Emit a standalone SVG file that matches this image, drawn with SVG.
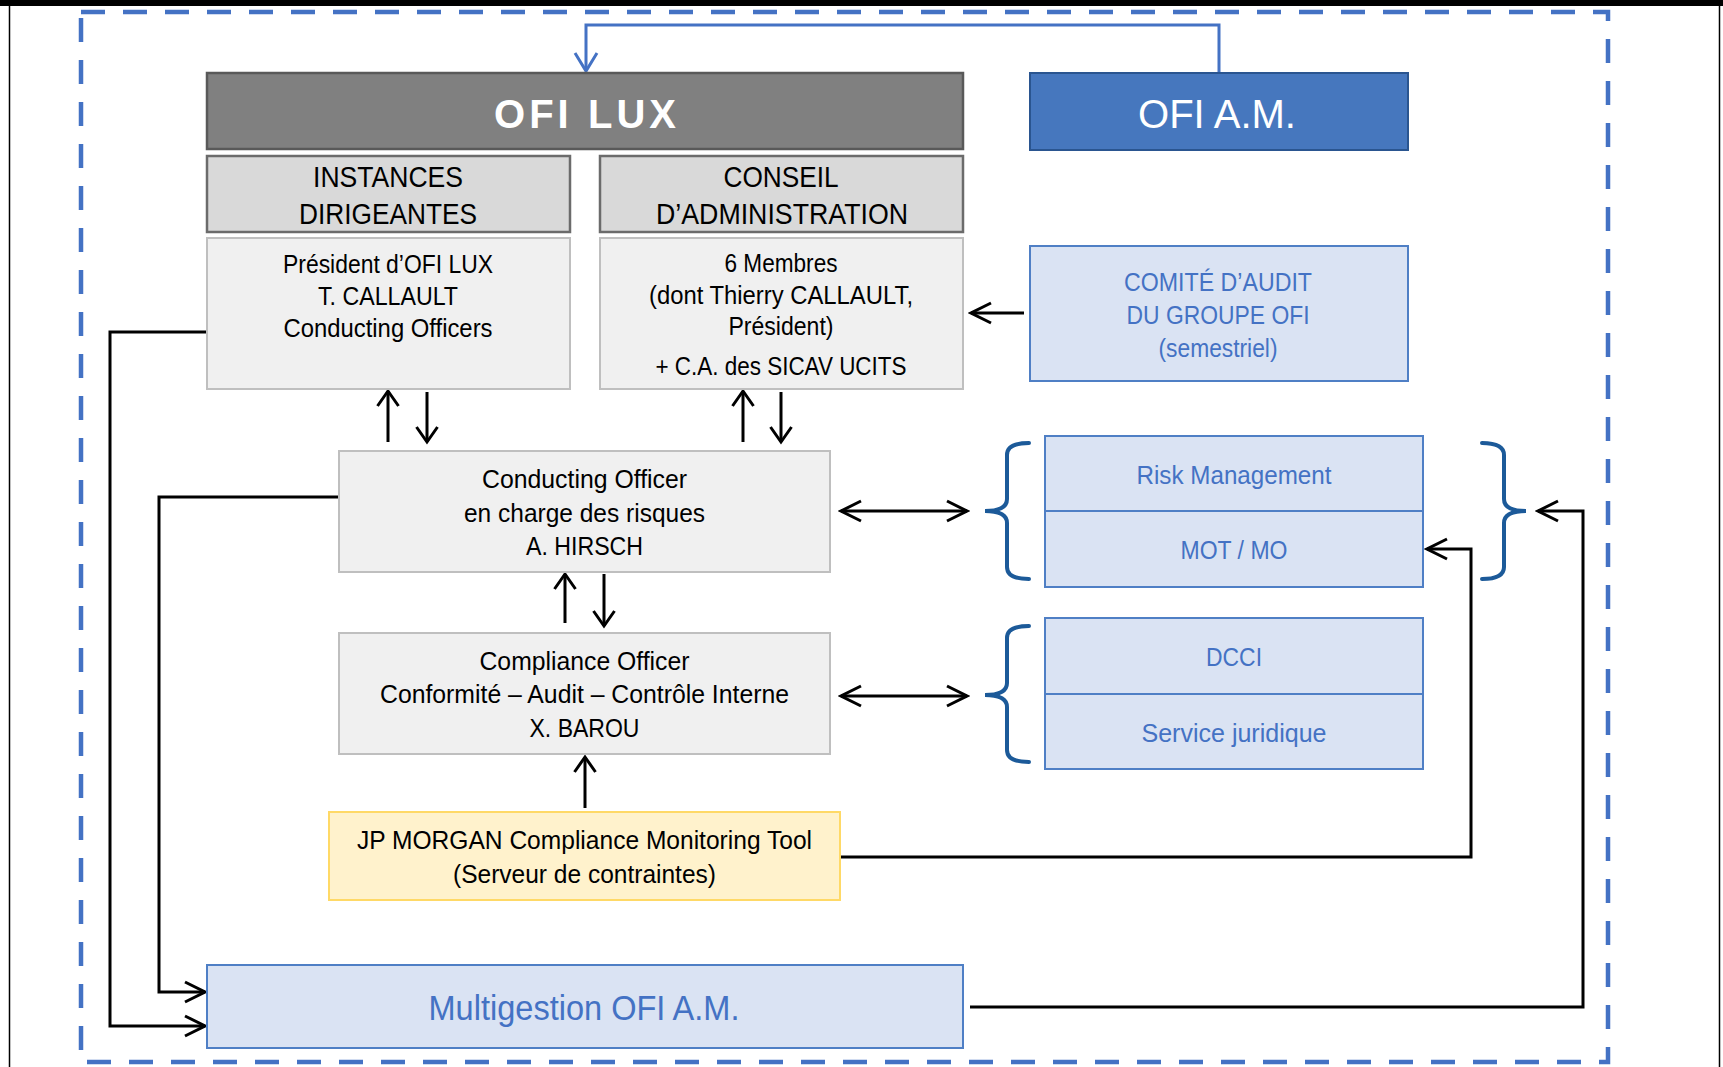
<svg xmlns="http://www.w3.org/2000/svg" width="1723" height="1067" viewBox="0 0 1723 1067">
<style>
text{font-family:"Liberation Sans",Arial,sans-serif;text-anchor:middle;}
.t{font-size:25px;fill:#000;}
.h{font-size:30px;fill:#000;}
.b{font-size:26px;fill:#4472c4;}
.dark{fill:#808080;stroke:#595959;stroke-width:2.5;}
.hdr{fill:#d9d9d9;stroke:#6b6b6b;stroke-width:2.5;}
.gray{fill:#f0f0f0;stroke:#bfbfbf;stroke-width:2;}
.lb{fill:#dae3f3;stroke:#4f7fc5;stroke-width:2;}
.con{fill:none;stroke:#000;stroke-width:3;}
.brace{fill:none;stroke:#1c5a99;stroke-width:4;stroke-linecap:round;}
</style>
<defs>
<marker id="aH" viewBox="-24 -13 27 26" refX="0" refY="0" markerWidth="27" markerHeight="26" markerUnits="userSpaceOnUse" orient="auto-start-reverse">
<path d="M-20,-10 L0,0 L-20,10" fill="none" stroke="#000" stroke-width="3"/>
</marker>
<marker id="aV" viewBox="-20 -14 23 28" refX="0" refY="0" markerWidth="23" markerHeight="28" markerUnits="userSpaceOnUse" orient="auto">
<path d="M-15,-10.5 L0,0 L-15,10.5" fill="none" stroke="#000" stroke-width="3"/>
</marker>
<marker id="aB" viewBox="-22 -14 25 28" refX="0" refY="0" markerWidth="25" markerHeight="28" markerUnits="userSpaceOnUse" orient="auto">
<path d="M-18,-11 L0,0 L-18,11" fill="none" stroke="#4472c4" stroke-width="3"/>
</marker>
</defs>
<rect x="0" y="0" width="1723" height="1067" fill="#fff"/>
<rect x="0" y="0" width="1723" height="6" fill="#000"/>
<line x1="9.5" y1="0" x2="9.5" y2="1067" stroke="#000" stroke-width="1.5"/>
<line x1="1719.5" y1="0" x2="1719.5" y2="1067" stroke="#000" stroke-width="1.5"/>
<rect id="frame" x="81" y="12" width="1527" height="1050" fill="none" stroke="#4472c4" stroke-width="4.5" stroke-dasharray="24 18"/>

<g id="connectors">
<path d="M1219,73 V25 H586 V71" fill="none" stroke="#4472c4" stroke-width="3" marker-end="url(#aB)"/>
<path class="con" d="M1024,313 H971" marker-end="url(#aH)"/>
<path class="con" d="M388,442 V391" marker-end="url(#aV)"/>
<path class="con" d="M427,392 V442" marker-end="url(#aV)"/>
<path class="con" d="M743,442 V391" marker-end="url(#aV)"/>
<path class="con" d="M781,392 V442" marker-end="url(#aV)"/>
<path class="con" d="M565,623 V574" marker-end="url(#aV)"/>
<path class="con" d="M604,574 V626" marker-end="url(#aV)"/>
<path class="con" d="M585,808 V757" marker-end="url(#aV)"/>
<path class="con" d="M841,511 H967" marker-start="url(#aH)" marker-end="url(#aH)"/>
<path class="con" d="M841,696 H967" marker-start="url(#aH)" marker-end="url(#aH)"/>
<path class="con" d="M207,332 H110 V1026 H205" marker-end="url(#aH)"/>
<path class="con" d="M339,497 H159 V992 H205" marker-end="url(#aH)"/>
<path class="con" d="M840,857 H1471 V549 H1427" marker-end="url(#aH)"/>
<path class="con" d="M970,1007 H1583 V511 H1538" marker-end="url(#aH)"/>
<path class="brace" d="M1029,443 Q1007,443 1007,455 V499 Q1007,511 985,511 Q1007,511 1007,523 V567 Q1007,579 1029,579"/>
<path class="brace" d="M1482,443 Q1504,443 1504,455 V499 Q1504,511 1526,511 Q1504,511 1504,523 V567 Q1504,579 1482,579"/>
<path class="brace" d="M1029,626 Q1007,626 1007,638 V683 Q1007,695 985,695 Q1007,695 1007,707 V750 Q1007,762 1029,762"/>
</g>

<g id="ofi-lux">
<rect class="dark" x="207" y="73" width="756" height="76"/>
<text x="585" y="128" style="font-size:40px;font-weight:bold;fill:#fff" textLength="182" lengthAdjust="spacing">OFI LUX</text>
</g>
<g id="ofi-am">
<rect x="1030" y="73" width="378" height="77" fill="#4677be" stroke="#2a5590" stroke-width="2"/>
<text x="1217" y="128" style="font-size:40px;fill:#fff" textLength="158" lengthAdjust="spacingAndGlyphs">OFI A.M.</text>
</g>
<g id="instances">
<rect class="hdr" x="207" y="156" width="363" height="76"/>
<text class="h" x="388" y="187" textLength="150" lengthAdjust="spacingAndGlyphs">INSTANCES</text>
<text class="h" x="388" y="224" textLength="178" lengthAdjust="spacingAndGlyphs">DIRIGEANTES</text>
</g>
<g id="conseil">
<rect class="hdr" x="600" y="156" width="363" height="76"/>
<text class="h" x="781" y="187" textLength="115" lengthAdjust="spacingAndGlyphs">CONSEIL</text>
<text class="h" x="782" y="224" textLength="252" lengthAdjust="spacingAndGlyphs">D’ADMINISTRATION</text>
</g>
<g id="president">
<rect class="gray" x="207" y="238" width="363" height="151"/>
<text class="t" x="388" y="273" textLength="210" lengthAdjust="spacingAndGlyphs">Président d’OFI LUX</text>
<text class="t" x="388" y="305" textLength="140" lengthAdjust="spacingAndGlyphs">T. CALLAULT</text>
<text class="t" x="388" y="337" textLength="209" lengthAdjust="spacingAndGlyphs">Conducting Officers</text>
</g>
<g id="membres">
<rect class="gray" x="600" y="238" width="363" height="151"/>
<text class="t" x="781" y="272" textLength="113" lengthAdjust="spacingAndGlyphs">6 Membres</text>
<text class="t" x="781" y="304" textLength="264" lengthAdjust="spacingAndGlyphs">(dont Thierry CALLAULT,</text>
<text class="t" x="781" y="335" textLength="105" lengthAdjust="spacingAndGlyphs">Président)</text>
<text class="t" x="781" y="375" textLength="251" lengthAdjust="spacingAndGlyphs">+ C.A. des SICAV UCITS</text>
</g>
<g id="comite">
<rect class="lb" x="1030" y="246" width="378" height="135"/>
<text class="b" x="1218" y="291" textLength="188" lengthAdjust="spacingAndGlyphs">COMITÉ D’AUDIT</text>
<text class="b" x="1218" y="324" textLength="183" lengthAdjust="spacingAndGlyphs">DU GROUPE OFI</text>
<text class="b" x="1218" y="357" style="font-size:25px" textLength="119" lengthAdjust="spacingAndGlyphs">(semestriel)</text>
</g>
<g id="conducting">
<rect class="gray" x="339" y="451" width="491" height="121"/>
<text class="t" x="584.5" y="488" textLength="205" lengthAdjust="spacingAndGlyphs">Conducting Officer</text>
<text class="t" x="584.5" y="522" textLength="241" lengthAdjust="spacingAndGlyphs">en charge des risques</text>
<text class="t" x="584.5" y="555" textLength="117" lengthAdjust="spacingAndGlyphs">A. HIRSCH</text>
</g>
<g id="compliance">
<rect class="gray" x="339" y="633" width="491" height="121"/>
<text class="t" x="584.5" y="670" textLength="210" lengthAdjust="spacingAndGlyphs">Compliance Officer</text>
<text class="t" x="584.5" y="703" textLength="409" lengthAdjust="spacingAndGlyphs">Conformité – Audit – Contrôle Interne</text>
<text class="t" x="584.5" y="737" textLength="110" lengthAdjust="spacingAndGlyphs">X. BAROU</text>
</g>
<g id="risk">
<rect class="lb" x="1045" y="436" width="378" height="75"/>
<text class="b" x="1234" y="484" textLength="195" lengthAdjust="spacingAndGlyphs">Risk Management</text>
</g>
<g id="mot">
<rect class="lb" x="1045" y="511" width="378" height="76"/>
<text class="b" x="1234" y="559" textLength="107" lengthAdjust="spacingAndGlyphs">MOT / MO</text>
</g>
<g id="dcci">
<rect class="lb" x="1045" y="618" width="378" height="76"/>
<text class="b" x="1234" y="666" textLength="56" lengthAdjust="spacingAndGlyphs">DCCI</text>
</g>
<g id="juridique">
<rect class="lb" x="1045" y="694" width="378" height="75"/>
<text class="b" x="1234" y="742" textLength="185" lengthAdjust="spacingAndGlyphs">Service juridique</text>
</g>
<g id="jpmorgan">
<rect x="329" y="812" width="511" height="88" fill="#fff2cc" stroke="#ffd966" stroke-width="2"/>
<text class="t" x="584.5" y="849" textLength="455" lengthAdjust="spacingAndGlyphs">JP MORGAN Compliance Monitoring Tool</text>
<text class="t" x="584.5" y="883" textLength="263" lengthAdjust="spacingAndGlyphs">(Serveur de contraintes)</text>
</g>
<g id="multigestion">
<rect class="lb" x="207" y="965" width="756" height="83"/>
<text class="b" x="584" y="1020" style="font-size:35px" textLength="311" lengthAdjust="spacingAndGlyphs">Multigestion OFI A.M.</text>
</g>
</svg>
